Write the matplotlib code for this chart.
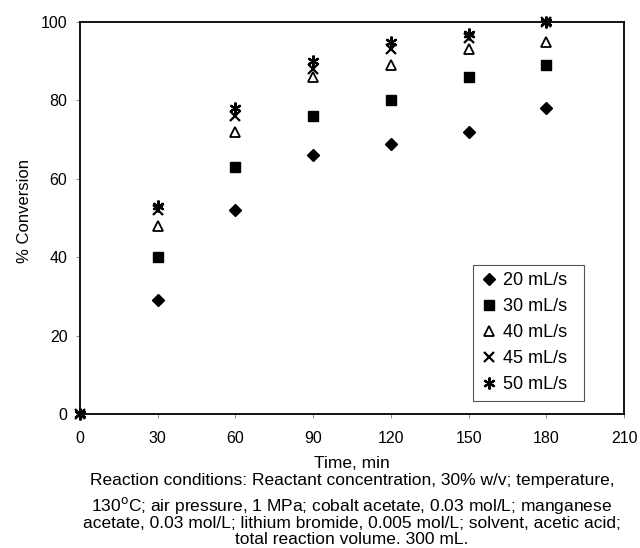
import matplotlib
matplotlib.use("Agg")
import matplotlib.pyplot as plt

plt.rcParams['font.family'] = ['Liberation Sans', 'DejaVu Sans']
plt.rcParams['font.size'] = 12

# time points (min)
t = [30, 60, 90, 120, 150, 180]
t0 = [0, 30, 60, 90, 120, 150, 180]

# % conversion per air flow rate
conv_20 = [29, 52, 66, 69, 72, 78]
conv_30 = [40, 63, 76, 80, 86, 89]
conv_40 = [48, 72, 86, 89, 93, 95]
conv_45 = [0, 52, 76, 88, 93, 96, 100]
conv_50 = [0, 53, 78, 90, 95, 97, 100]

labels = ['20 mL/s', '30 mL/s', '40 mL/s', '45 mL/s', '50 mL/s']
xticks = [0, 30, 60, 90, 120, 150, 180, 210]
yticks = [0, 20, 40, 60, 80, 100]

fig = plt.figure(figsize=(6.4, 5.48), dpi=100)
ax = fig.add_axes([80 / 640, 1 - 414 / 548, 544 / 640, 392 / 548])

kw = dict(linestyle='none', color='black', clip_on=False, zorder=3)
ax.plot(t, conv_20, marker='D', markersize=6.5, label=labels[0], **kw)
ax.plot(t, conv_30, marker='s', markersize=7, label=labels[1], **kw)
ax.plot(t, conv_40, marker='^', markersize=7.5, markerfacecolor='white',
        markeredgewidth=1.3, label=labels[2], **kw)
ax.plot(t0, conv_45, marker='x', markersize=7, markeredgewidth=1.6,
        label=labels[3], **kw)
ax.plot(t0, conv_50, marker=(6, 2, 0), markersize=8.5, markeredgewidth=1.6,
        label=labels[4], **kw)

ax.set_xlim(0, 210)
ax.set_ylim(0, 100)
ax.set_xticks(xticks)
ax.set_yticks(yticks)
for s in ax.spines.values():
    s.set_linewidth(1.3)
ax.tick_params(direction='out', length=3, width=0.6, color='#777777',
               labelsize=11.5)
ax.tick_params(axis='x', pad=9)
ax.tick_params(axis='y', pad=6)
ax.set_ylabel('% Conversion', fontsize=12)
ax.yaxis.set_label_coords(-0.088, 0.518)

# legend box spans x 473..584, y 265..394 px
leg = fig.legend(loc='upper left',
                 bbox_to_anchor=(473 / 640, 1 - 394 / 548, 111 / 640, 129 / 548),
                 bbox_transform=fig.transFigure, borderaxespad=0, mode='expand',
                 fancybox=False, edgecolor='#555555', framealpha=1,
                 fontsize=13, handlelength=1.0, handletextpad=0.25,
                 labelspacing=0.5, borderpad=0.4, numpoints=1)
leg.get_frame().set_linewidth(0.8)

cx = 352 / 640
fs = 12.5
fig.text(cx, 1 - 463 / 548, 'Time, min', ha='center', va='center', fontsize=fs)
fig.text(cx, 1 - 480 / 548,
         'Reaction conditions: Reactant concentration, 30% w/v; temperature,',
         ha='center', va='center', fontsize=fs)
fig.text(cx, 1 - 506 / 548,
         '130$^{\\rm o}$C; air pressure, 1 MPa; cobalt acetate, 0.03 mol/L; manganese',
         ha='center', va='center', fontsize=fs)
fig.text(cx, 1 - 524 / 548,
         'acetate, 0.03 mol/L; lithium bromide, 0.005 mol/L; solvent, acetic acid;',
         ha='center', va='center', fontsize=fs)
fig.text(cx, 1 - 540 / 548, 'total reaction volume. 300 mL.',
         ha='center', va='center', fontsize=fs)

fig.savefig('out.png', dpi=100)
